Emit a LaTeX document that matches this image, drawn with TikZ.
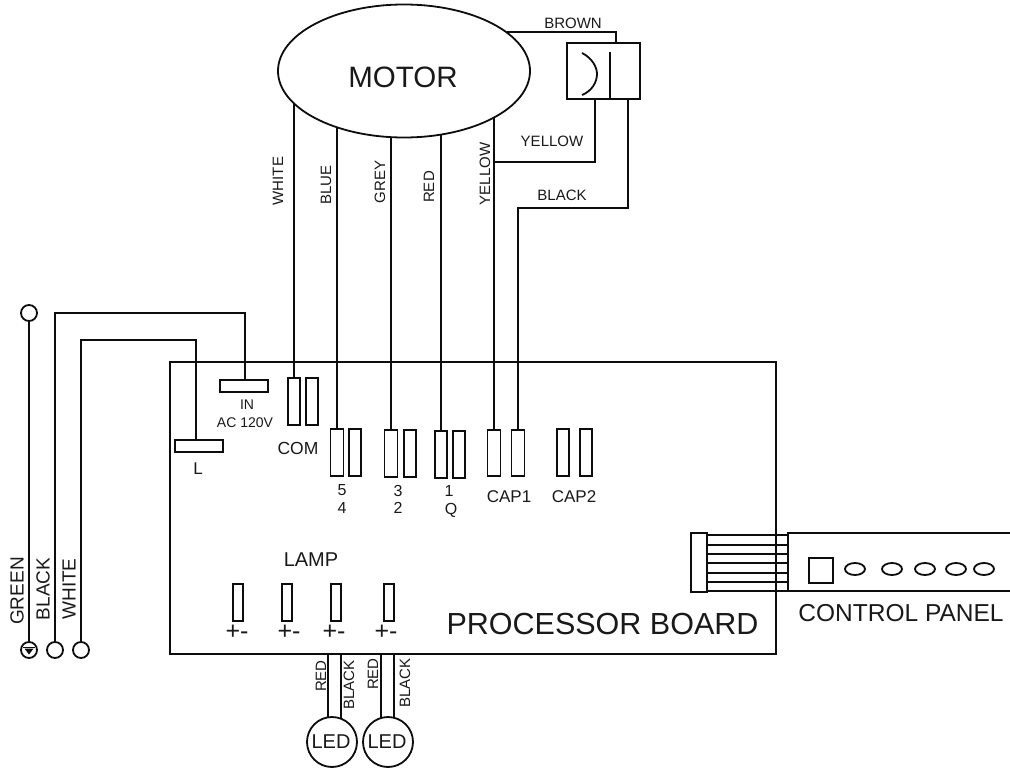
\documentclass[tikz,border=0pt]{standalone}
\usepackage{fontspec}
\setmainfont{Liberation Sans}
\tikzset{
  wire/.style={line width=1.8pt,black!95,line join=miter},
  box/.style 2 args={draw=black!95,line width=1.8pt,rectangle,inner sep=0pt,outer sep=0pt,minimum width=#1pt,minimum height=#2pt},
  lbl/.style={inner sep=0pt,outer sep=0pt,text=black!90,font=\fontsize{#1}{#1}\selectfont},
  vlbl/.style={lbl=#1,rotate=90},
  round/.style={draw=black!95,line width=1.8pt,circle,inner sep=0pt,outer sep=0pt,minimum size=#1pt},
  led/.style={draw=black!95,line width=1.8pt,ellipse,inner sep=0pt,outer sep=0pt,minimum width=20pt,minimum height=12pt}
}
\usetikzlibrary{shapes.geometric}
\begin{document}
\begin{tikzpicture}[x=1pt,y=-1pt]
\useasboundingbox (0,0) rectangle (1010,770);
% board
\node[box={606}{292}] (board) at (473,508) {};
% motor
\node[draw=black!95,line width=1.8pt,ellipse,inner sep=0pt,outer sep=0pt,minimum width=252pt,minimum height=133pt] (motor) at (404,71) {};
\node[lbl=29.5] (motortxt) at (403,77) {MOTOR};
% capacitor
\node[box={73}{56}] (cap) at (603.5,71) {};
\coordinate (capN) at (610,52);
\draw[wire] (capN) -- (capN |- cap.south);
\coordinate (coilA) at (582,53);
\coordinate (coilB) at (582,95);
\draw[wire] (coilA) .. controls (592,58) and (597,67) .. (597,74) .. controls (597,82) and (592,91) .. (coilB);
% AC terminals
\node[box={48}{12}] (in) at (244,386) {};
\node[box={48}{12}] (l) at (199,446) {};
\node[lbl=14] (intxt) at (247,405) {IN};
\node[lbl=14] (actxt) at (245,423) {AC 120V};
\node[lbl=17] (ltxt) at (198,469) {L};
% terminal pairs
\node[box={12}{47}] (com1) at (294,401.5) {};
\node[box={12}{47}] (com2) at (312,401.5) {};
\node[lbl=17.5] (comtxt) at (298,448) {COM};
\node[box={13}{47}] (t5a) at (337,452.5) {};
\node[box={12}{47}] (t5b) at (355,452.5) {};
\node[lbl=16] (t5) at (342,490) {5};
\node[lbl=16] (t4) at (342,508) {4};
\node[box={13}{47}] (t3a) at (391,453.5) {};
\node[box={12}{47}] (t3b) at (410,453.5) {};
\node[lbl=16] (t3) at (398,491) {3};
\node[lbl=16] (t2) at (398,508) {2};
\node[box={12}{47}] (t1a) at (441,454.5) {};
\node[box={12}{47}] (t1b) at (459,454.5) {};
\node[lbl=16] (t1) at (449,491) {1};
\node[lbl=16] (tq) at (451,510) {Q};
\node[box={13}{46}] (c1a) at (494,453) {};
\node[box={13}{46}] (c1b) at (518,453) {};
\node[lbl=17] (c1txt) at (509,497) {CAP1};
\node[box={12}{47}] (c2a) at (563,452.5) {};
\node[box={12}{47}] (c2b) at (586,452.5) {};
\node[lbl=17] (c2txt) at (574,497) {CAP2};
% motor wires
\coordinate (mWhite) at (294,103);
\coordinate (mBlue) at (337,127);
\coordinate (mGrey) at (391,137);
\coordinate (mRed) at (441,134);
\coordinate (mYellow) at (494,117);
\coordinate (mBrown) at (507,32);
\draw[wire] (mWhite) -- (com1.north);
\draw[wire] (mBlue) -- (t5a.north);
\draw[wire] (mGrey) -- (t3a.north);
\draw[wire] (mRed) -- (t1a.north);
\draw[wire] (mYellow) -- (c1a.north);
\coordinate (brownEnd) at (616,43);
\coordinate (capY) at (595,99);
\coordinate (capK) at (628,99);
\draw[wire] (mBrown) -| (brownEnd);
\draw[wire] (capY) |- (c1a.north |- 0,162);
\draw[wire] (capK) |- (c1b.north |- 0,208) -- (c1b.north);
\node[vlbl=15] (w1) at (278,181) {WHITE};
\node[vlbl=15] (w2) at (326,185) {BLUE};
\node[vlbl=15] (w3) at (380,182) {GREY};
\node[vlbl=15] (w4) at (429,187) {RED};
\node[vlbl=15] (w5) at (485,174) {YELLOW};
\node[lbl=15] (w6) at (552,141) {YELLOW};
\node[lbl=15] (w7) at (562,195) {BLACK};
\node[lbl=15] (w8) at (573,23) {BROWN};
% mains wires
\node[round=16] (gTop) at (29,313) {};
\node[round=16] (gBot) at (29,650) {};
\node[round=16] (kBot) at (55,650) {};
\node[round=16] (wBot) at (81,650) {};
\draw[wire] (gTop) -- (gBot);
\coordinate (kTop) at (55,313);
\coordinate (wTop) at (81,340);
\draw[wire] (kBot) -- (kTop) -| (in.north -| 245,0);
\draw[wire] (wBot) -- (wTop) -| (l.north -| 196,0);
\draw[line width=1.2pt,black!95] (23,647.5) -- (35,647.5);
\fill[black!95] (24.5,648.5) -- (33.5,648.5) -- (29,654.5) -- cycle;
\node[vlbl=19] (gl) at (17,591) {GREEN};
\node[vlbl=19] (kl) at (43,589) {BLACK};
\node[vlbl=19] (wl) at (69,589) {WHITE};
% lamps
\node[lbl=20] (lamp) at (311,560) {LAMP};
\node[box={10}{37}] (la) at (238,602.5) {};
\node[box={10}{37}] (lb) at (287,602.5) {};
\node[box={10}{37}] (lc) at (336,602.5) {};
\node[box={10}{37}] (ld) at (389,602.5) {};
\node[lbl=25] (pa) at (237,632) {+-};
\node[lbl=25] (pb) at (289,632) {+-};
\node[lbl=25] (pc) at (334,632) {+-};
\node[lbl=25] (pd) at (386,632) {+-};
% LEDs
\node[round=50] (led1) at (332,742) {};
\node[round=50] (led2) at (388,742) {};
\node[lbl=20] (led1t) at (331,742) {LED};
\node[lbl=20] (led2t) at (387,742) {LED};
\coordinate (b1) at (328,654);
\coordinate (b2) at (341,654);
\coordinate (b3) at (381,654);
\coordinate (b4) at (394,654);
\coordinate (e1) at (328,717.3);
\coordinate (e2) at (341,718.7);
\coordinate (e3) at (381,718);
\coordinate (e4) at (394,717.7);
\draw[wire] (b1) -- (e1);
\draw[wire] (b2) -- (e2);
\draw[wire] (b3) -- (e3);
\draw[wire] (b4) -- (e4);
\node[vlbl=15] (r1) at (321,676) {RED};
\node[vlbl=15] (r2) at (373,674) {RED};
\node[vlbl=15] (k1) at (349,685) {BLACK};
\node[vlbl=15] (k2) at (405,683) {BLACK};
% control panel
\coordinate (pTR) at (1010,533);
\coordinate (pTL) at (788,533);
\coordinate (pBL) at (788,591);
\coordinate (pBR) at (1010,591);
\draw[wire] (pTR) -- (pTL) -- (pBL) -- (pBR);
\node[box={16}{59}] (conn) at (699,562.5) {};
\foreach \i/\y in {1/535,2/545,3/554,4/563,5/573,6/582,7/591}{
  \coordinate (row\i) at (788,\y);
  \draw[line width=1.5pt,black!95] (conn.east |- row\i) -- (row\i);
}
\node[box={24}{25}] (sq) at (821,570.5) {};
\foreach \n/\x in {a/855,b/892,c/925,d/956,e/984}{
  \node[led] (btn\n) at (\x,569) {};
}
\node[lbl=24.5] (cp) at (901,613) {CONTROL PANEL};
\node[lbl=30.5] (pbtxt) at (602.5,624) {PROCESSOR BOARD};
\end{tikzpicture}
\end{document}
